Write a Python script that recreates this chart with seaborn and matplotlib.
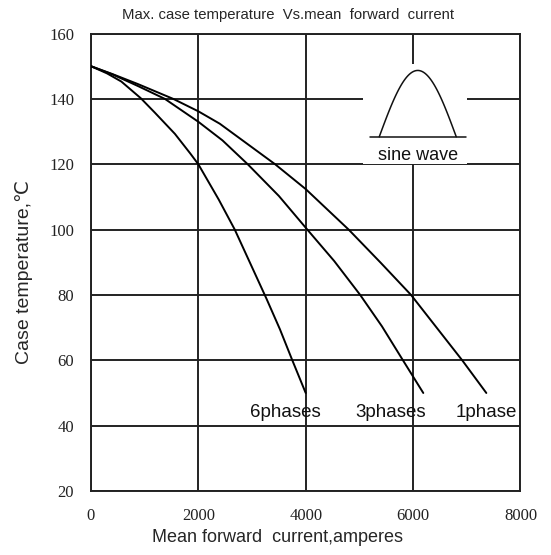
import numpy as np
import pandas as pd
import matplotlib
matplotlib.use("Agg")
import matplotlib.pyplot as plt
from matplotlib.patches import Rectangle
import seaborn as sns

# values
current_6ph = [0, 300, 567, 929, 1190, 1564, 1850, 2000, 2380, 2679, 3271, 3520, 3751, 4000]
temp_6ph = [150, 147.8, 145.3, 140.2, 135.8, 129.3, 123.3, 120, 109.2, 100, 78.8, 69.5, 60, 50]

current_3ph = [0, 400, 880, 1377, 2000, 2450, 2920, 3500, 4030, 4530, 5015, 5420, 5800, 6190]
temp_3ph = [150, 147.5, 143.9, 140, 133, 127.3, 120, 110.3, 100, 90.4, 80, 70.4, 60.3, 50]

current_1ph = [0, 400, 880, 1533, 2000, 2400, 3430, 4000, 4800, 5400, 5962, 6915, 7364]
temp_1ph = [150, 147.6, 144.5, 140, 136.2, 132.4, 120, 112.4, 100, 89.8, 80, 60, 50]

phase_labels = ["6phases", "3phases", "1phase"]
label_x = [3630, 5590, 7365]

x_ticks = [0, 2000, 4000, 6000, 8000]
y_ticks = [20, 40, 60, 80, 100, 120, 140, 160]

df = pd.concat([
    pd.DataFrame({"current": current_6ph, "temp": temp_6ph, "phase": "6phases"}),
    pd.DataFrame({"current": current_3ph, "temp": temp_3ph, "phase": "3phases"}),
    pd.DataFrame({"current": current_1ph, "temp": temp_1ph, "phase": "1phase"}),
])

sns.set_style("white")
plt.rcParams["font.family"] = ["Liberation Sans", "DejaVu Sans"]

fig, ax = plt.subplots(figsize=(5.51, 5.55), dpi=100)
fig.subplots_adjust(left=0.165, right=0.9446, top=0.9396, bottom=0.1153)

sns.lineplot(data=df, x="current", y="temp", hue="phase",
             palette={p: "black" for p in phase_labels},
             estimator=None, sort=False, legend=False, linewidth=1.4, ax=ax, zorder=3)

ax.set_xlim(0, 8000)
ax.set_ylim(20, 160)
ax.set_xticks(x_ticks)
ax.set_yticks(y_ticks)
ax.tick_params(length=0, pad=12, labelsize=12)
for lab in ax.get_xticklabels() + ax.get_yticklabels():
    lab.set_fontfamily("Liberation Serif")
    lab.set_color("#222222")
ax.grid(True, color="#222222", linewidth=1.4)
ax.set_axisbelow(True)
for sp in ax.spines.values():
    sp.set_color("#222222")
    sp.set_linewidth(1.4)
ax.set_xlabel("")
ax.set_ylabel("")

# curve labels
for name, lx in zip(phase_labels, label_x):
    ax.text(lx, 41.3, name, ha="center", va="bottom", fontsize=13.5, color="#111111")

# sine wave icon with a white box over the grid
ax.add_patch(Rectangle((5065, 120.0), 7009 - 5065, 150.8 - 120.0,
                       facecolor="white", edgecolor="none", zorder=1))
t = np.linspace(0, np.pi, 60)
ax.plot(5370 + (6804 - 5370) * t / np.pi, 128.4 + 20.3 * np.sin(t), color="#111111", lw=1.1, zorder=3)
ax.plot([5202, 6990], [128.4, 128.4], color="#111111", lw=1.1, zorder=3)
ax.text(6090, 122.8, "sine wave", ha="center", va="center", fontsize=13, color="#111111", zorder=3)

fig.text(288.5 / 551, 1 - 14.5 / 555, "Max. case temperature  Vs.mean  forward  current",
         ha="center", va="center", fontsize=10.7)
fig.text(24 / 551, 1 - 272 / 555, "Case temperature,\u2103", rotation=90,
         ha="center", va="center", fontsize=14)
fig.text(277 / 551, 1 - 538 / 555, "Mean forward  current,amperes",
         ha="center", va="center", fontsize=13)

fig.savefig("out.png", dpi=100)
